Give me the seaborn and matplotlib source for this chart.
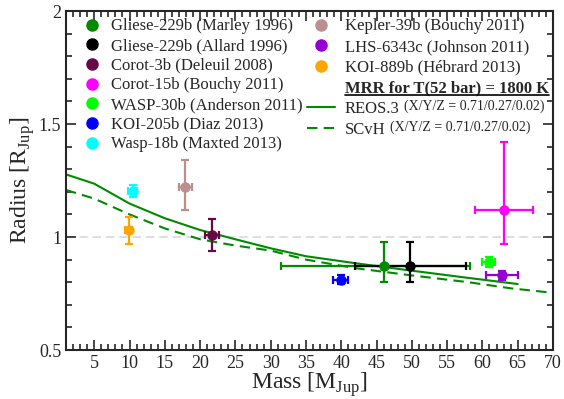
import numpy as np
import pandas as pd
import matplotlib
matplotlib.use('Agg')
import matplotlib.pyplot as plt
from matplotlib.lines import Line2D
from matplotlib.ticker import MultipleLocator
import seaborn as sns

# planets (legend order)
names = ['Gliese-229b (Marley 1996)', 'Gliese-229b (Allard 1996)', 'Corot-3b (Deleuil 2008)',
         'Corot-15b (Bouchy 2011)', 'WASP-30b (Anderson 2011)', 'KOI-205b (Diaz 2013)',
         'Wasp-18b (Maxted 2013)', 'Kepler-39b (Bouchy 2011)', 'LHS-6343c (Johnson 2011)',
         'KOI-889b (Hébrard 2013)']
mass = [46.1, 49.8, 21.66, 63.0, 60.9, 39.9, 10.43, 17.9, 62.8, 9.9]
mass_lo = [14.7, 7.9, 1.0, 4.0, 0.9, 1.0, 0.69, 0.9, 2.3, 0.5]
mass_hi = [12.2, 7.9, 1.0, 4.2, 0.9, 1.0, 0.69, 0.9, 2.3, 0.5]
radius = [0.87, 0.87, 1.01, 1.12, 0.889, 0.81, 1.204, 1.22, 0.83, 1.03]
rad_lo = [0.07, 0.07, 0.07, 0.15, 0.021, 0.02, 0.027, 0.10, 0.02, 0.06]
rad_hi = [0.11, 0.11, 0.07, 0.30, 0.021, 0.02, 0.027, 0.12, 0.02, 0.06]
colors = ['#008b00', '#000000', '#670748', '#ff00ff', '#00ff00', '#0000ff',
          '#00ffff', '#bc8f8f', '#9400d3', '#ffa500']

# mass-radius relations
reos_mass = [1, 5, 10, 15, 20, 25, 30, 35, 42, 50, 58, 65]
reos_rad = [1.277, 1.236, 1.148, 1.083, 1.031, 0.99, 0.95, 0.915, 0.884, 0.851, 0.819, 0.792]
scvh_mass = [1, 5, 10, 15, 20, 25, 30, 35, 42, 50, 58, 64, 70]
scvh_rad = [1.208, 1.17, 1.10, 1.038, 0.99, 0.962, 0.94, 0.90, 0.862, 0.83, 0.80, 0.773, 0.753]

sns.set_style('ticks')
plt.rcParams['font.family'] = ['Liberation Serif', 'DejaVu Serif']
plt.rcParams['mathtext.fontset'] = 'custom'
plt.rcParams['mathtext.rm'] = 'Liberation Serif'

fig = plt.figure(figsize=(5.64, 3.99), dpi=100)
ax = fig.add_axes([0.117, 0.1228, 0.8635, 0.8496])

ax.axhline(1.0, color='#d8d8d8', ls=(0, (5, 3)), lw=1.2, zorder=0.5)

green4 = '#008b00'
sns.lineplot(x=reos_mass, y=reos_rad, ax=ax, color=green4, lw=1.5, sort=False, zorder=2)
sns.lineplot(x=scvh_mass, y=scvh_rad, ax=ax, color=green4, lw=1.5, ls=(0, (5, 3)), sort=False, zorder=2)

for i in range(len(names)):
    ax.errorbar(mass[i], radius[i], xerr=[[mass_lo[i]], [mass_hi[i]]],
                yerr=[[rad_lo[i]], [rad_hi[i]]], fmt='o', color=colors[i], ms=6.5,
                elinewidth=1.6, capsize=3, capthick=1.6, zorder=3)

ax.set_xlim(1, 70)
ax.set_ylim(0.5, 2)
ax.set_xticks(range(5, 71, 5))
ax.xaxis.set_minor_locator(MultipleLocator(1))
ax.set_yticks([0.5, 1, 1.5, 2])
ax.set_yticklabels(['0.5', '1', '1.5', '2'])
ax.yaxis.set_minor_locator(MultipleLocator(0.1))
ax.tick_params(which='both', direction='in', top=True, right=True, labelsize=13, width=1.2)
ax.tick_params(which='major', length=7)
ax.tick_params(which='minor', length=4)
for s in ax.spines.values():
    s.set_linewidth(1.5)

ax.set_xlabel(r'Mass [M$_{\mathrm{Jup}}$]', fontsize=17, labelpad=-1)
ax.set_ylabel(r'Radius [R$_{\mathrm{Jup}}$]', fontsize=17, labelpad=1)

# legends
h1 = [Line2D([], [], ls='', marker='o', ms=8, color=c) for c in colors[:7]]
leg1 = ax.legend(h1, names[:7], loc='upper left', bbox_to_anchor=(0.024, 0.978),
                 frameon=False, fontsize=12, borderpad=0, borderaxespad=0,
                 handlelength=1.7, handletextpad=0.3, labelspacing=0.22)
ax.add_artist(leg1)

h2 = [Line2D([], [], ls='', marker='o', ms=8, color=c) for c in colors[7:]]
h2 += [Line2D([], [], ls='', marker=''),
       Line2D([], [], color=green4, lw=1.5),
       Line2D([], [], color=green4, lw=1.5, ls=(0, (5, 3)))]
labels2 = names[7:] + ['MRR for T(52 bar) = 1800 K', 'REOS.3', 'SCvH']
leg2 = ax.legend(h2, labels2, loc='upper left', bbox_to_anchor=(0.494, 0.978),
                 frameon=False, fontsize=12, borderpad=0, borderaxespad=0,
                 handlelength=1.7, handletextpad=0.6, labelspacing=0.28)
texts = leg2.get_texts()
texts[3].set_fontweight('bold')

# underline the header and add the small composition text once the legend is laid out
fig.canvas.draw()
inv = fig.transFigure.inverted()
bb = texts[3].get_window_extent()
(x0, y0), (x1, y1) = inv.transform([(bb.x0, bb.y0 + 1), (bb.x1, bb.y0 + 1)])
fig.add_artist(Line2D([x0, x1], [y0, y1], color='black', lw=1.2, transform=fig.transFigure))
for t in texts[4:]:
    bb = t.get_window_extent()
    xf, yf = inv.transform((bb.x1 + 4, bb.y0 + 4))
    fig.text(xf, yf, '(X/Y/Z = 0.71/0.27/0.02)', fontsize=10, va='bottom', ha='left')

fig.savefig('out.png', dpi=100)
